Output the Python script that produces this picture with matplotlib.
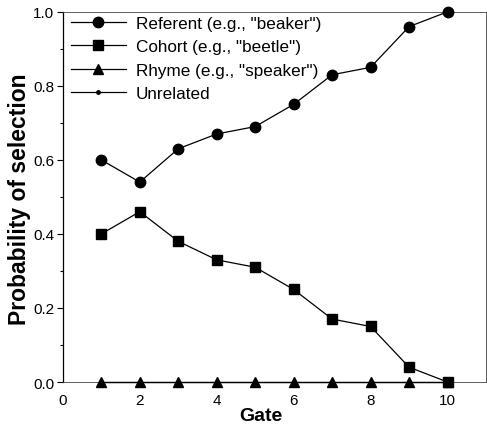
import matplotlib

matplotlib.use("Agg")
import matplotlib.pyplot as plt
from matplotlib.ticker import FormatStrFormatter, MultipleLocator

plt.rcParams["font.family"] = ["Liberation Sans", "DejaVu Sans"]

gates = [1, 2, 3, 4, 5, 6, 7, 8, 9, 10]
referent = [0.60, 0.54, 0.63, 0.67, 0.69, 0.75, 0.83, 0.85, 0.96, 1.00]
cohort = [0.40, 0.46, 0.38, 0.33, 0.31, 0.25, 0.17, 0.15, 0.04, 0.00]
rhyme = [0.0, 0.0, 0.0, 0.0, 0.0, 0.0, 0.0, 0.0, 0.0, 0.0]
unrelated = [0.0, 0.0, 0.0, 0.0, 0.0, 0.0, 0.0, 0.0, 0.0, 0.0]

labels = [
    'Referent (e.g., "beaker")',
    'Cohort (e.g., "beetle")',
    'Rhyme (e.g., "speaker")',
    "Unrelated",
]

fig = plt.figure(figsize=(4.87, 4.27), dpi=100)
ax = fig.add_axes([0.129, 0.103, 0.869, 0.867])

style = dict(color="black", linewidth=0.9, clip_on=False)
ax.plot(gates, unrelated, marker="o", markersize=2.5, label=labels[3], zorder=2, **style)
ax.plot(gates, rhyme, marker="^", markersize=7, label=labels[2], zorder=3, **style)
ax.plot(gates, cohort, marker="s", markersize=7, label=labels[1], zorder=3, **style)
ax.plot(gates, referent, marker="o", markersize=7.5, label=labels[0], zorder=3, **style)

ax.set_xlim(0, 11)
ax.set_ylim(0, 1.0)
ax.xaxis.set_major_locator(MultipleLocator(2))
ax.yaxis.set_major_locator(MultipleLocator(0.2))
ax.yaxis.set_minor_locator(MultipleLocator(0.1))
ax.yaxis.set_major_formatter(FormatStrFormatter("%.1f"))
ax.tick_params(axis="x", length=0, labelsize=11, pad=8)
ax.tick_params(axis="y", which="major", length=4, width=0.8, labelsize=11, pad=2)
ax.tick_params(axis="y", which="minor", length=2, width=0.8)

for side in ["top", "right", "bottom"]:
    ax.spines[side].set_linewidth(0.6)
    ax.spines[side].set_color("#444444")
ax.spines["left"].set_linewidth(0.9)

ax.set_xlabel("Gate", fontsize=14, fontweight="bold")
ax.xaxis.set_label_coords(0.468, -0.068)
ax.set_ylabel("Probability of selection", fontsize=16.5, fontweight="bold")
ax.yaxis.set_label_coords(-0.075, 0.497)

handles, labs = ax.get_legend_handles_labels()
order = [3, 2, 1, 0]
ax.legend(
    [handles[i] for i in order],
    [labs[i] for i in order],
    loc="upper left",
    bbox_to_anchor=(0.019, 0.99),
    frameon=False,
    fontsize=12.3,
    handlelength=3.2,
    handletextpad=0.6,
    labelspacing=0.5,
    borderaxespad=0.0,
    borderpad=0.0,
)

fig.savefig("out.png", dpi=100)
